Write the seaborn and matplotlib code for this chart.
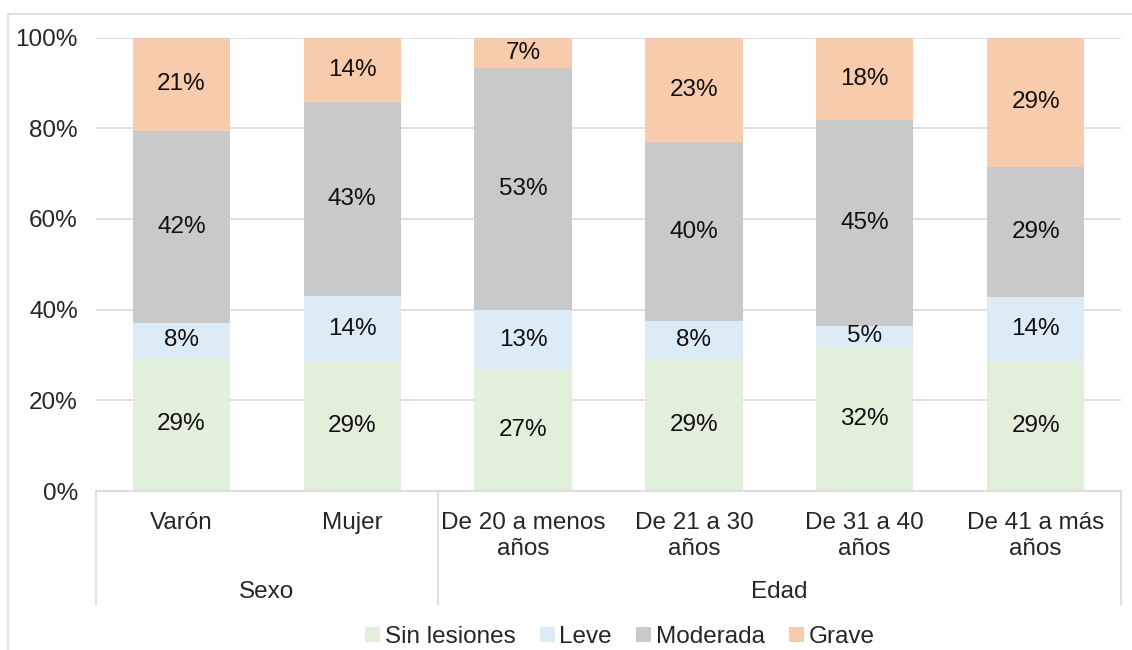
import numpy as np
import pandas as pd
import seaborn as sns
import matplotlib.pyplot as plt
from matplotlib.patches import Patch, Rectangle

# datos (% por categoria)
categorias = ['Varón', 'Mujer', 'De 20 a menos\naños', 'De 21 a 30\naños',
              'De 31 a 40\naños', 'De 41 a más\naños']
grupos = ['Sexo', 'Edad']
n_por_grupo = [2, 4]
series = ['Sin lesiones', 'Leve', 'Moderada', 'Grave']
sin_lesiones = [29.4, 28.6, 26.7, 29.0, 31.8, 28.6]
leve = [7.7, 14.3, 13.3, 8.4, 4.6, 14.2]
moderada = [42.3, 42.8, 53.3, 39.6, 45.4, 28.6]
grave = [20.6, 14.3, 6.7, 23.0, 18.2, 28.6]
colores = ['#E2EFDA', '#DDEBF7', '#C9C9C9', '#F8CBAD']

df = pd.DataFrame({'cat': categorias, 'Sin lesiones': sin_lesiones, 'Leve': leve,
                   'Moderada': moderada, 'Grave': grave})

sns.set_style('white')
plt.rcParams['font.family'] = ['Liberation Sans', 'DejaVu Sans']
FS = 17.5

fig = plt.figure(figsize=(11.32, 6.5), dpi=100)
ax = fig.add_axes([96/1132, 1-491/650, (1121-96)/1132, (491-37.5)/650])

# barras apiladas: dibujar acumulados de arriba hacia abajo
cum = df[series].cumsum(axis=1)
for s, c in reversed(list(zip(series, colores))):
    sns.barplot(x=df['cat'], y=cum[s], color=c, width=0.57, ax=ax,
                saturation=1, edgecolor='none', zorder=2)

# etiquetas de datos
for i in range(len(categorias)):
    for s in series:
        v = df.loc[i, s]
        ax.text(i, cum.loc[i, s] - v/2, f'{round(v):.0f}%', ha='center', va='center',
                fontsize=FS, color='#111111', zorder=3)

ax.set_ylim(0, 100)
ax.set_xlim(-0.5, len(categorias) - 0.5)
ax.set_yticks(np.arange(0, 101, 20))
ax.set_yticklabels([f'{t}%' for t in range(0, 101, 20)], fontsize=FS)
ax.tick_params(axis='y', length=0, pad=13)
ax.set_xticks([])
ax.set_xlabel('')
ax.set_ylabel('')
ax.yaxis.grid(True, color='#D9D9D9', linewidth=1.2, zorder=0)
ax.set_axisbelow(True)
for sp in ['top', 'right', 'left']:
    ax.spines[sp].set_visible(False)
ax.spines['bottom'].set_color('#D9D9D9')
ax.spines['bottom'].set_linewidth(1.2)

# eje de categorias con dos niveles
trans = ax.get_xaxis_transform()
px = 1 / (491 - 37.5)
for i, cat in enumerate(categorias):
    ax.text(i, -(512 - 491) * px, cat, transform=trans, ha='center', va='top',
            fontsize=FS, linespacing=1.25, clip_on=False)
inicio = -0.5
for g, n in zip(grupos, n_por_grupo):
    ax.text(inicio + n/2, -(592 - 491) * px, g, transform=trans, ha='center',
            va='center', fontsize=FS, clip_on=False)
    inicio += n
for xb in [-0.5, 1.5, 5.5]:
    ax.plot([xb, xb], [0, -(605 - 491) * px], transform=trans, color='#D9D9D9',
            linewidth=1.2, clip_on=False)

# borde del grafico
fig.patches.append(Rectangle((8/1132, -0.1), 1.2, 1.1 - 14/650, transform=fig.transFigure,
                             fill=False, edgecolor='#D9D9D9', linewidth=1.2))

handles = [Patch(facecolor=c, edgecolor='none', label=s) for s, c in zip(series, colores)]
fig.legend(handles=handles, loc='center', bbox_to_anchor=(620/1132, 1-637/650), ncol=4,
           frameon=False, fontsize=FS, handlelength=0.6, handleheight=0.6,
           handletextpad=0.2, columnspacing=1.0, borderpad=0)

fig.savefig('out.png', dpi=100)
